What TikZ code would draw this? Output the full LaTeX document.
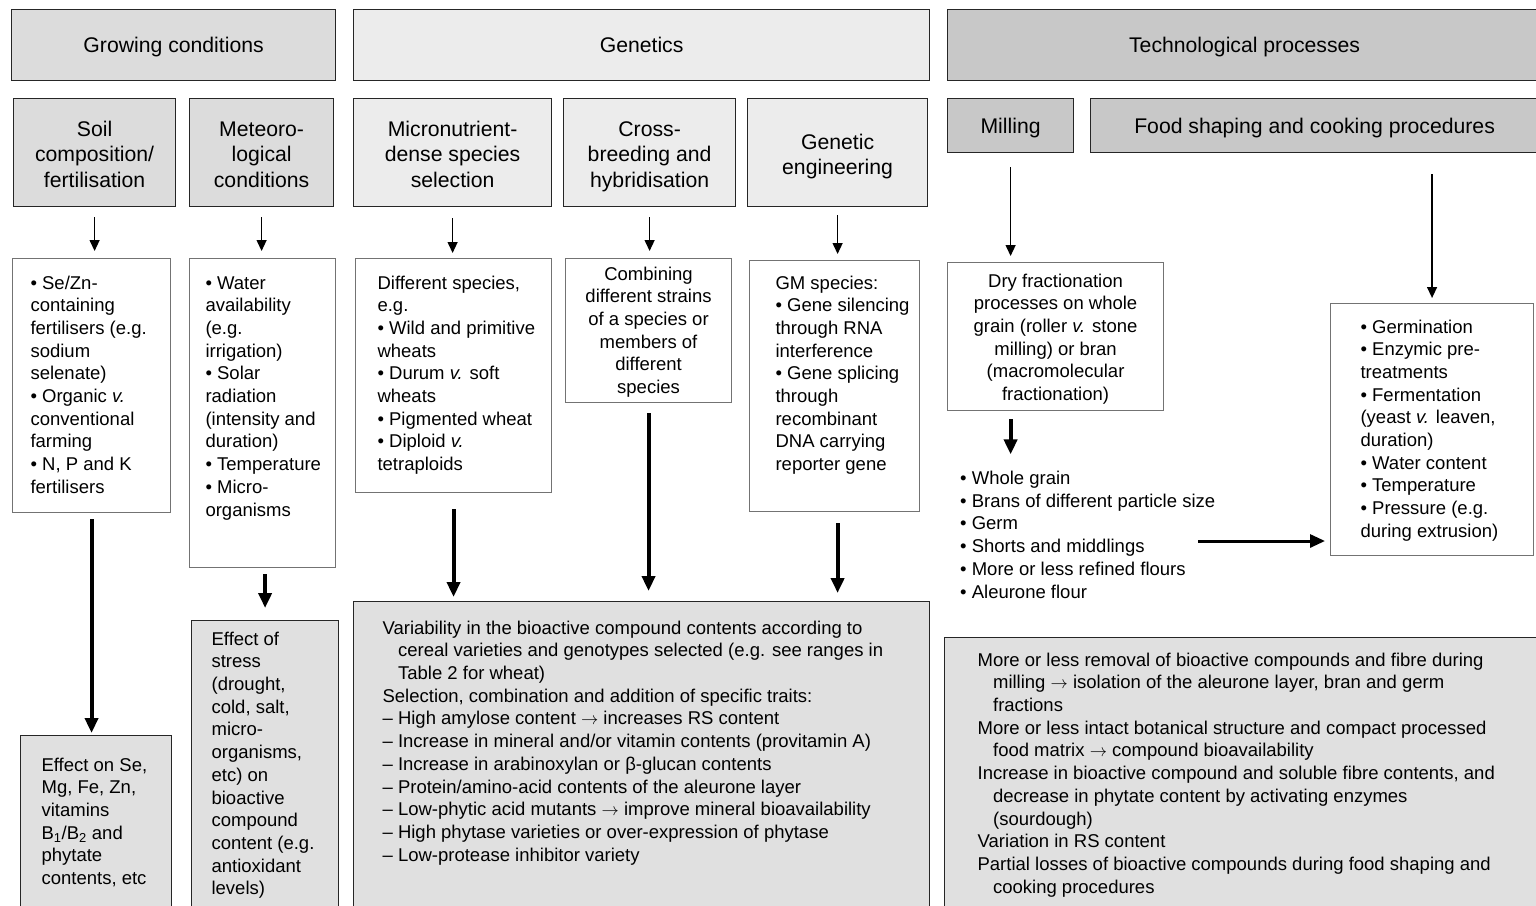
\documentclass[tikz,border=0pt]{standalone}
\usepackage{fontspec}
\setmainfont{Liberation Sans}
\usetikzlibrary{arrows.meta}
\definecolor{growgray}{HTML}{DCDCDC}
\definecolor{genegray}{HTML}{ECECEC}
\definecolor{techgray}{HTML}{C8C8C8}
\definecolor{effgray}{HTML}{E0E0E0}
\newcommand{\bodyfont}{\fontsize{18.5}{22.7}\selectfont}
\newcommand{\headfont}{\fontsize{21.2}{25.5}\selectfont}
\newcommand{\leftcol}[2]{\makebox[#1][l]{\begin{tabular}[t]{@{}l@{}}#2\end{tabular}}}
\newcommand{\midcol}[1]{\begin{tabular}[t]{@{}c@{}}#1\end{tabular}}
\newcommand{\hgap}{\hspace*{15.5pt}}
\newcommand{\vs}{{\itshape v.}}

\begin{document}
\begin{tikzpicture}[x=1pt,y=-1pt,
	hd/.style={draw=black!85, line width=1.2pt, anchor=north west, font=\headfont, inner sep=0pt},
	oneline/.style={text height=15.2pt, text depth=0pt},
	lst/.style={draw=black!55, line width=1.1pt, fill=white, anchor=north west, font=\bodyfont, inner ysep=0pt},
	eff/.style={draw=black!85, line width=1.2pt, fill=effgray, anchor=north west, font=\bodyfont, inner ysep=0pt},
	arr/.style={line width=1.3pt, -{Triangle[length=11pt,width=10pt]}},
	bigarr/.style={line width=4pt, -{Triangle[length=15pt,width=13pt]}}]
	\useasboundingbox (0,0) rectangle (1536,905);
	% top headers
	\node[hd, oneline, fill=growgray, minimum width=324pt, minimum height=71pt] (grow) at (11,9) {Growing conditions};
	\node[hd, oneline, fill=genegray, minimum width=576pt, minimum height=71pt] (gene) at (353,9) {Genetics};
	\node[hd, oneline, fill=techgray, minimum width=594pt, minimum height=71pt] (tech) at (947,9) {Technological processes};
	% second row
	\node[hd, fill=growgray, minimum width=162pt, text height=37.5pt, text depth=70.5pt] (soil) at (13,98) {\midcol{Soil\\composition/\\fertilisation}};
	\node[hd, fill=growgray, minimum width=144pt, text height=37.5pt, text depth=70.5pt] (meteo) at (189,98) {\midcol{Meteoro-\\logical\\conditions}};
	\node[hd, fill=genegray, minimum width=198pt, text height=37.5pt, text depth=70.5pt] (micro) at (353,98) {\midcol{Micronutrient-\\dense species\\selection}};
	\node[hd, fill=genegray, minimum width=172pt, text height=37.5pt, text depth=70.5pt] (cross) at (563,98) {\midcol{Cross-\\breeding and\\hybridisation}};
	\node[hd, fill=genegray, minimum width=180pt, text height=50.5pt, text depth=57.5pt] (geng) at (747,98) {\midcol{Genetic\\engineering}};
	\node[hd, oneline, fill=techgray, minimum width=126pt, minimum height=54pt] (mill) at (947,98) {Milling};
	\node[hd, oneline, fill=techgray, minimum width=448pt, minimum height=54pt] (shape) at (1090,98) {Food shaping and cooking procedures};
	% lists
	\node[lst, inner xsep=18pt, text height=30.5pt, text depth=223.5pt] (soillist) at (12,258)
		{\leftcol{122pt}{• Se/Zn-\\containing\\fertilisers (e.g.\\sodium\\selenate)\\• Organic \vs\\conventional\\farming\\• N, P and K\\fertilisers}};
	\node[lst, inner xsep=16pt, text height=30.5pt, text depth=278.5pt] (meteolist) at (189,258)
		{\leftcol{114pt}{• Water\\availability\\(e.g.\\irrigation)\\• Solar\\radiation\\(intensity and\\duration)\\• Temperature\\• Micro-\\organisms}};
	\node[lst, inner xsep=22pt, text height=30.5pt, text depth=203.5pt] (microlist) at (355,258)
		{\leftcol{152pt}{Different species,\\e.g.\\• Wild and primitive\\wheats\\• Durum \vs{} soft\\wheats\\• Pigmented wheat\\• Diploid \vs\\tetraploids}};
	\node[lst, inner xsep=0pt, minimum width=166pt, text height=21.5pt, text depth=122.5pt] (crosslist) at (565,258)
		{\midcol{Combining\\different strains\\of a species or\\members of\\different\\species}};
	\node[lst, inner xsep=26pt, text height=28.5pt, text depth=222.5pt] (gelist) at (749,260)
		{\leftcol{118pt}{GM species:\\• Gene silencing\\through RNA\\interference\\• Gene splicing\\through\\recombinant\\DNA carrying\\reporter gene}};
	\node[lst, inner xsep=0pt, minimum width=216pt, text height=24.5pt, text depth=123.5pt] (drylist) at (947,262)
		{\midcol{Dry fractionation\\processes on whole\\grain (roller \vs{} stone\\milling) or bran\\(macromolecular\\fractionation)}};
	\node[lst, inner xsep=30pt, text height=29.5pt, text depth=222.5pt] (foodlist) at (1330,303)
		{\leftcol{143pt}{• Germination\\• Enzymic pre-\\treatments\\• Fermentation\\(yeast \vs{} leaven,\\duration)\\• Water content\\• Temperature\\• Pressure (e.g.\\during extrusion)}};
	\node[anchor=base west, inner sep=0pt, font=\bodyfont] (millist) at (960,484.5)
		{\leftcol{260pt}{• Whole grain\\• Brans of different particle size\\• Germ\\• Shorts and middlings\\• More or less refined flours\\• Aleurone flour}};
	% effects
	\node[eff, inner xsep=21pt, text height=35.5pt, text depth=180pt] (soileff) at (20,735)
		{\leftcol{109pt}{Effect on Se,\\Mg, Fe, Zn,\\vitamins\\B\textsubscript{1}/B\textsubscript{2} and\\phytate\\contents, etc}};
	\node[eff, inner xsep=20pt, text height=24.5pt, text depth=300pt] (meteoeff) at (191,620)
		{\leftcol{107pt}{Effect of\\stress\\(drought,\\cold, salt,\\micro-\\organisms,\\etc) on\\bioactive\\compound\\content (e.g.\\antioxidant\\levels)}};
	\node[eff, inner xsep=29pt, text height=32.5pt, text depth=320pt] (genebot) at (353,601)
		{\leftcol{518pt}{Variability in the bioactive compound contents according to\\
		\hgap cereal varieties and genotypes selected (e.g. see ranges in\\
		\hgap Table 2 for wheat)\\
		Selection, combination and addition of specific traits:\\
		-- High amylose content $\rightarrow$ increases RS content\\
		-- Increase in mineral and/or vitamin contents (provitamin A)\\
		-- Increase in arabinoxylan or β-glucan contents\\
		-- Protein/amino-acid contents of the aleurone layer\\
		-- Low-phytic acid mutants $\rightarrow$ improve mineral bioavailability\\
		-- High phytase varieties or over-expression of phytase\\
		-- Low-protease inhibitor variety}};
	\node[eff, inner xsep=33pt, text height=28.5pt, text depth=300pt] (techbot) at (944,637)
		{\leftcol{534pt}{More or less removal of bioactive compounds and fibre during\\
		\hgap milling $\rightarrow$ isolation of the aleurone layer, bran and germ\\
		\hgap fractions\\
		More or less intact botanical structure and compact processed\\
		\hgap food matrix $\rightarrow$ compound bioavailability\\
		Increase in bioactive compound and soluble fibre contents, and\\
		\hgap decrease in phytate content by activating enzymes\\
		\hgap (sourdough)\\
		Variation in RS content\\
		Partial losses of bioactive compounds during food shaping and\\
		\hgap cooking procedures}};
	% thin arrows
	\draw[arr, shorten <=10pt, shorten >=7pt] (soil.south) -- (soil.south |- soillist.north);
	\draw[arr, shorten <=10pt, shorten >=7pt] (meteo.south) -- (meteo.south |- meteolist.north);
	\draw[arr, shorten <=11pt, shorten >=5pt] (micro.south) -- (micro.south |- microlist.north);
	\draw[arr, shorten <=10pt, shorten >=7pt] (cross.south) -- (cross.south |- crosslist.north);
	\draw[arr, shorten <=8pt, shorten >=6pt] (geng.south) -- (geng.south |- gelist.north);
	\draw[arr, shorten <=14pt, shorten >=6pt] (mill.south) -- (mill.south |- drylist.north);
	\draw[arr, shorten <=21pt, shorten >=5pt] (foodlist.north |- shape.south) -- (foodlist.north);
	% thick arrows
	\draw[bigarr, shorten <=6pt, shorten >=2pt] (soillist.south) -- (soillist.south |- soileff.north);
	\draw[bigarr, shorten <=6pt, shorten >=12pt] (meteoeff.north |- meteolist.south) -- (meteoeff.north);
	\draw[bigarr, shorten <=16pt, shorten >=4pt] (microlist.south) -- (microlist.south |- genebot.north);
	\draw[bigarr, shorten <=10pt, shorten >=10pt] (crosslist.south) -- (crosslist.south |- genebot.north);
	\draw[bigarr, shorten <=11pt, shorten >=8pt] (geng.south |- gelist.south) -- (geng.south |- genebot.north);
	\draw[bigarr, shorten <=8pt, shorten >=14pt] (mill.south |- drylist.south) -- (mill.south |- millist.north);
	\coordinate (flow) at (1198,541);
	\draw[bigarr, line width=3pt, shorten >=5pt] (flow) -- (flow -| foodlist.west);
\end{tikzpicture}
\end{document}
